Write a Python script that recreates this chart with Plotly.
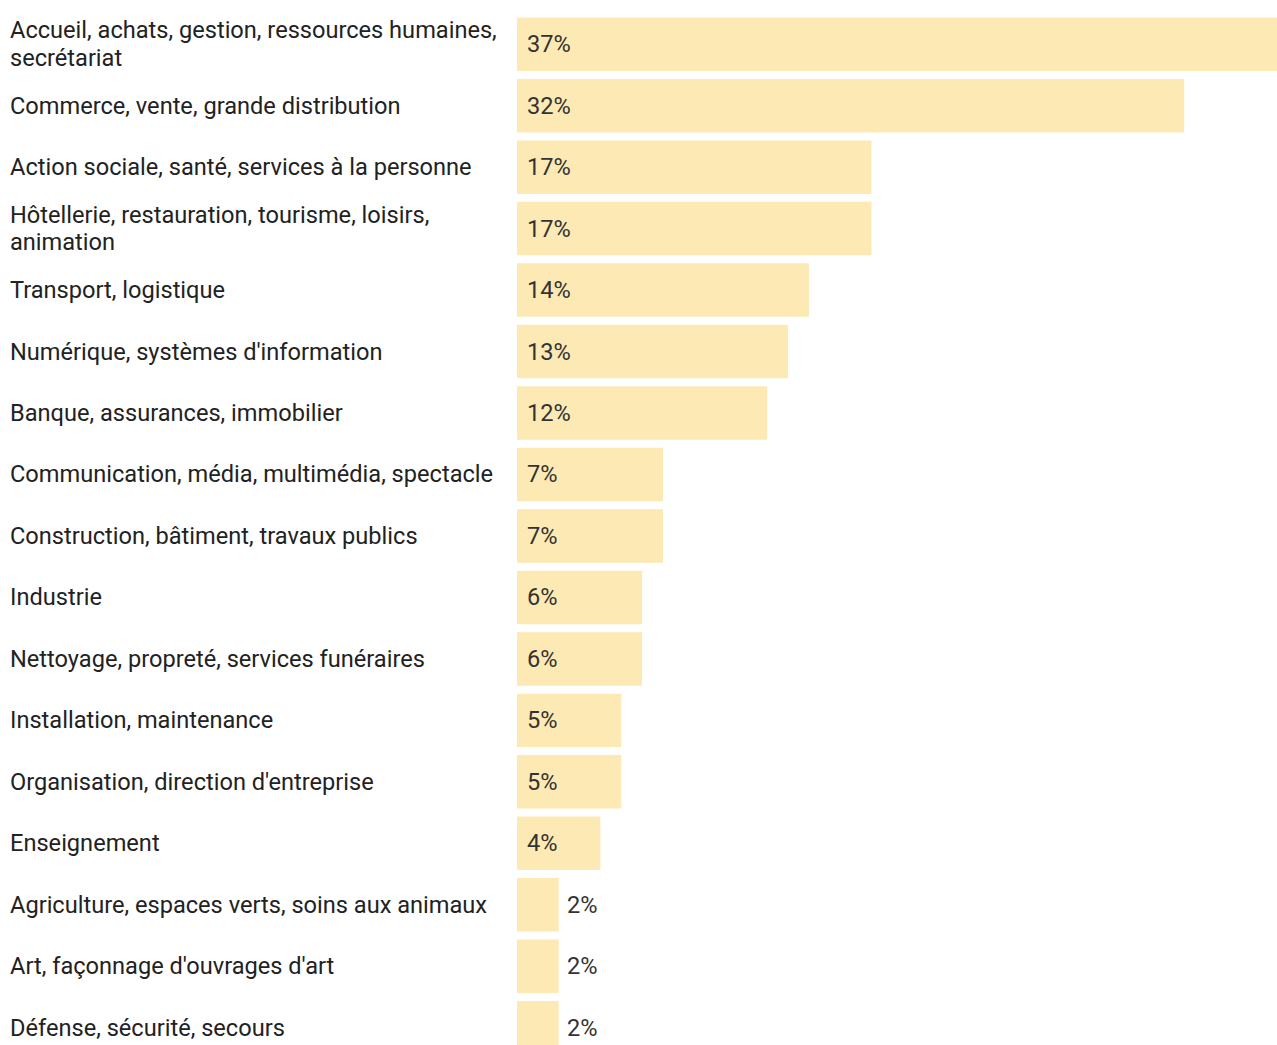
import plotly.graph_objects as go

categories = [
    "Accueil, achats, gestion, ressources humaines,<br>secrétariat",
    "Commerce, vente, grande distribution",
    "Action sociale, santé, services à la personne",
    "Hôtellerie, restauration, tourisme, loisirs,<br>animation",
    "Transport, logistique",
    "Numérique, systèmes d'information",
    "Banque, assurances, immobilier",
    "Communication, média, multimédia, spectacle",
    "Construction, bâtiment, travaux publics",
    "Industrie",
    "Nettoyage, propreté, services funéraires",
    "Installation, maintenance",
    "Organisation, direction d'entreprise",
    "Enseignement",
    "Agriculture, espaces verts, soins aux animaux",
    "Art, façonnage d'ouvrages d'art",
    "Défense, sécurité, secours",
]
values = [37, 32, 17, 17, 14, 13, 12, 7, 7, 6, 6, 5, 5, 4, 2, 2, 2]
value_labels = [f"{v}%" for v in values]

W, H = 1277, 1045
L = 517
plot_w = W - L
px_per_unit = 20.85
pitch = 61.47
first_center = 44.2

ids = list(range(len(categories)))

fig = go.Figure(go.Bar(
    x=values, y=ids, orientation="h",
    marker=dict(color="#FCE9B3", line=dict(width=0)),
    hoverinfo="skip",
))

font_family = "Roboto, Arial, sans-serif"
FS = 23.6
LINE = 27.5
annotations = []
for i, (cat, v, lab) in enumerate(zip(categories, values, value_labels)):
    lines = cat.split("<br>")
    n = len(lines)
    for k, line in enumerate(lines):
        annotations.append(dict(
            xref="paper", yref="y", x=(8 - L) / plot_w, y=i,
            text=line, showarrow=False, xanchor="left", yanchor="middle", align="left",
            yshift=((n - 1) / 2 - k) * LINE,
            font=dict(family=font_family, size=FS, color="#222222"),
        ))
    inside = v >= 4
    annotations.append(dict(
        xref="x", yref="y", x=0 if inside else v, y=i,
        text=lab, showarrow=False, xanchor="left", yanchor="middle",
        xshift=8 if inside else 6, font=dict(family=font_family, size=FS, color="#333333"),
    ))

y_top = -first_center / pitch
y_bot = (H - first_center) / pitch

fig.update_layout(
    width=W, height=H,
    margin=dict(l=L, r=0, t=0, b=0, pad=0),
    paper_bgcolor="white", plot_bgcolor="white",
    bargap=0.13,
    showlegend=False,
    xaxis=dict(range=[0, plot_w / px_per_unit], visible=False, fixedrange=True),
    yaxis=dict(range=[y_bot, y_top], visible=False, fixedrange=True),
    annotations=annotations,
)

fig.write_html(
    "out.html",
    config={"displayModeBar": False},
    post_script="document.body.style.margin='0';document.body.style.overflow='hidden';",
)
